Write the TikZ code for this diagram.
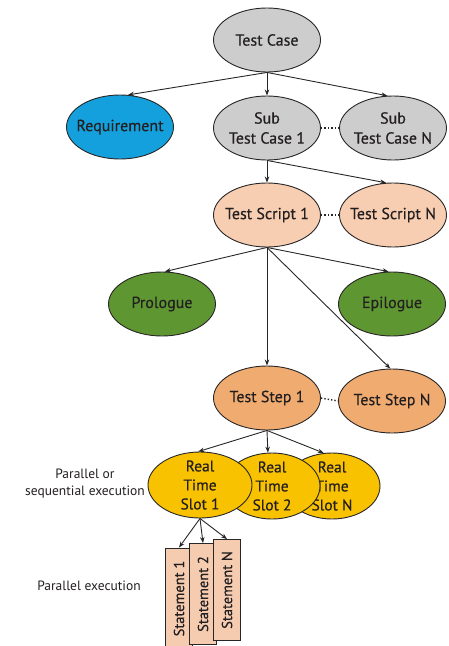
\documentclass[tikz,border=0pt]{standalone}
\usepackage{fontspec}
\setmainfont{PT Sans}
\newfontfamily\nodefont[FakeBold=0.4]{PT Sans}
\usetikzlibrary{shapes.geometric,arrows.meta}
\definecolor{linec}{RGB}{40,38,38}
\definecolor{grayf}{RGB}{205,205,205}
\definecolor{bluef}{RGB}{20,160,220}
\definecolor{peachf}{RGB}{248,206,178}
\definecolor{orangef}{RGB}{240,172,112}
\definecolor{greenf}{RGB}{94,150,50}
\definecolor{yellowf}{RGB}{248,194,0}
\definecolor{stmtf}{RGB}{246,204,176}
\definecolor{txt}{RGB}{35,31,32}
\tikzset{
  ell/.style={ellipse, draw=linec, line width=0.9pt, inner xsep=-25pt, inner ysep=-8pt,
    minimum width=107pt, minimum height=64pt, align=center,
    font=\nodefont\fontsize{16}{20}\selectfont, text=txt},
  slotell/.style={ell, fill=yellowf, minimum width=100pt, minimum height=66pt,
    font=\nodefont\fontsize{15.5}{19}\selectfont},
  stmt/.style={rectangle, draw=linec, line width=0.9pt, fill=stmtf, rotate=90,
    minimum width=101pt, minimum height=27pt, inner sep=0pt,
    font=\nodefont\fontsize{14.5}{16}\selectfont, text=txt},
  arr/.style={-{Stealth[length=6pt,width=4.5pt]}, draw=linec, line width=0.9pt},
  dots/.style={draw=linec, line width=1.4pt, dotted},
  side/.style={align=center, font=\fontsize{13.5}{17}\selectfont, text=txt}
}
\begin{document}
\begin{tikzpicture}[x=1pt,y=-1pt]
\useasboundingbox (0,0) rectangle (448,646);
\clip (0,0) rectangle (448,646);
% level 1
\node[ell, fill=grayf] (tc) at (267,40) {Test Case};
\node[ell, fill=bluef] (req) at (120,127) {Requirement};
\node[ell, fill=grayf] (stc1) at (267,128) {Sub\\Test Case 1};
\node[ell, fill=grayf] (stcn) at (393,128) {Sub\\Test Case N};
% scripts
\node[ell, fill=peachf] (ts1) at (267,215) {Test Script 1};
\node[ell, fill=peachf] (tsn) at (393,215) {Test Script N};
% prologue / epilogue
\node[ell, fill=greenf] (pro) at (162,304) {Prologue};
\node[ell, fill=greenf] (epi) at (392,304) {Epilogue};
% steps
\node[ell, fill=orangef] (st1) at (267,398) {Test Step 1};
\node[ell, fill=orangef] (stn) at (392,401) {Test Step N};
% slots (back to front)
\node[slotell, minimum width=96pt] (sln) at (332,486) {Real\\Time\\Slot N};
\node[slotell, minimum width=96pt] (sl2) at (272,486) {Real\\Time\\Slot 2};
\node[slotell, minimum width=104pt] (sl1) at (200,485) {Real\\Time\\Slot 1};
% statements
\node[stmt] (s1) at (179,598.5) {Statement 1};
\node[stmt] (s2) at (203,594) {Statement 2};
\node[stmt] (sn) at (227,590) {Statement N};
% side labels
\node[side] (lab1) at (85,484) {Parallel or\\sequential execution};
\node[side] (lab2) at (89,586) {Parallel execution};
% arrows
\draw[arr] (tc.south) -- (req.76);
\draw[arr] (tc.south) -- (stc1.north);
\draw[arr] (tc.south) -- (stcn.100);
\draw[arr] (stc1.south) -- (ts1.north);
\draw[arr] (stc1.south) -- (tsn.102);
\draw[arr] (ts1.south) -- (pro.85);
\draw[arr] (ts1.south) -- (epi.96);
\draw[arr] (ts1.south) -- (st1.north);
\draw[arr] (ts1.south) -- (stn.93);
\draw[arr] (st1.south) -- (sl1.93);
\draw[arr] (st1.south) -- (sl2.97);
\draw[arr] (st1.south) -- (sln.104);
\draw[arr] (sl1.south) -- (s1.east);
\draw[arr] (sl1.south) -- (s2.east);
\draw[arr] (sl1.south) -- (sn.east);
% dotted connectors
\draw[dots] (stc1.east) -- (stcn.west);
\draw[dots] (ts1.east) -- (tsn.west);
\draw[dots] (st1.east) -- (stn.west);
\end{tikzpicture}
\end{document}
